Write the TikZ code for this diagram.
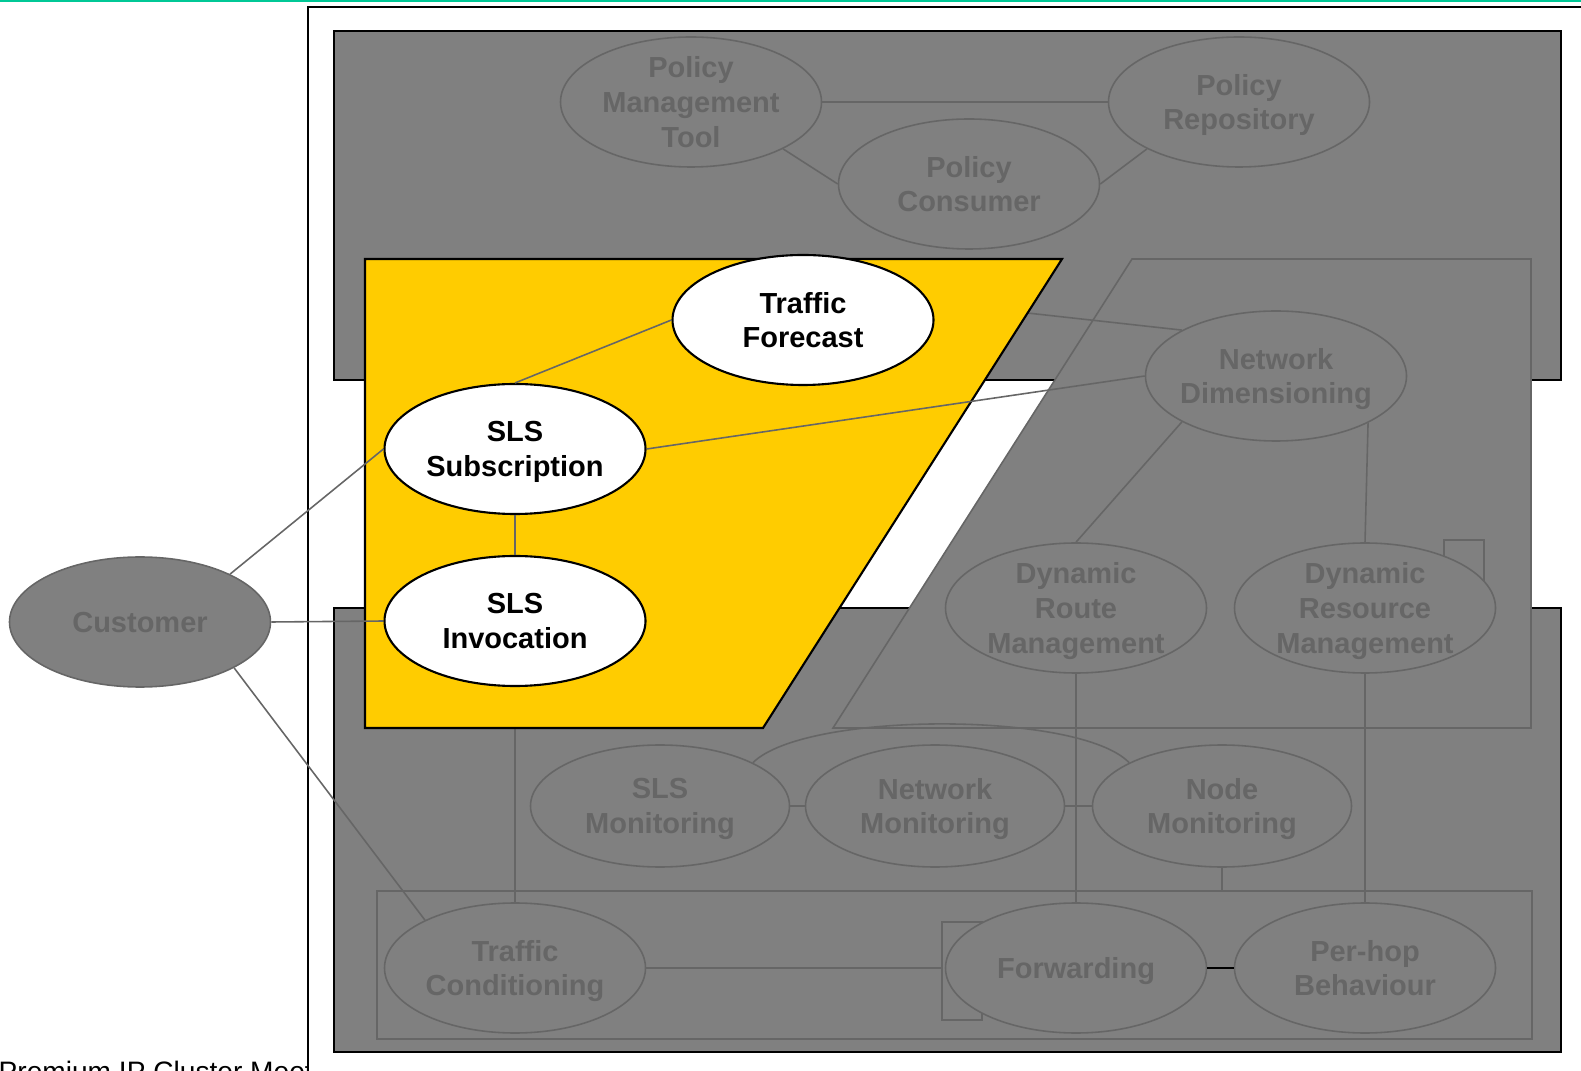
\documentclass[tikz,border=0pt]{standalone}
\usepackage{fontspec}
\setmainfont{Liberation Sans}
\usetikzlibrary{shapes.geometric}
\definecolor{archgrey}{HTML}{808080}
\definecolor{archline}{HTML}{666666}
\definecolor{archyellow}{HTML}{FFCC00}
\definecolor{archteal}{HTML}{00C896}
\pgfdeclarelayer{planes}
\pgfdeclarelayer{hidden}
\pgfdeclarelayer{slsarea}
\pgfsetlayers{planes,hidden,slsarea,main}

\begin{document}
\begin{tikzpicture}[
  x=0.1mm, y=-0.1mm,
  font=\bfseries\fontsize{8.25}{9.9}\selectfont,
  block/.style={ellipse, draw=archline, line width=0.45pt, fill=archgrey, text=archline,
                align=center, inner sep=-3mm, text depth=0pt,
                minimum width=26.1mm, minimum height=13mm},
  mon/.style={block, minimum width=25.9mm, minimum height=12.2mm},
  hot/.style={block, draw=black, fill=white, text=black, line width=0.6pt},
  plane/.style={draw=black, line width=0.5pt, fill=archgrey},
  link/.style={draw=archline, line width=0.45pt},
  port/.style={draw=archline, line width=0.45pt, inner sep=0pt, anchor=north west}
]
\useasboundingbox (0,0) rectangle (1581,1071);
% ================= page frame and the two planes =================
\begin{pgfonlayer}{planes}
\draw[archteal, line width=0.25mm] (0,1) -- (1581,1);
\begin{scope}
  \clip (0,0) rectangle (308,1071);
  \node[anchor=base west, inner sep=0pt, font=\mdseries\fontsize{8}{9.6}\selectfont] (footer)
    at (-2,1081) {Premium IP Cluster Meeting};
\end{scope}
\draw[line width=0.5pt] (1581,7) -- (308,7) -- (308,1071);
\draw[plane] (334,31) rectangle (1561,380);
\draw[plane] (334,608) rectangle (1561,1052);
\node[port, minimum width=115.5mm, minimum height=14.8mm] (dplane) at (376,890) {};
% network dimensioning area
\draw[link, fill=archgrey] (1132,259) -- (1531,259) -- (1531,728) -- (833,728) -- cycle;
\node[port, minimum width=4mm, minimum height=6mm] (rmport) at (1443,539) {};
\node[port, minimum width=4mm, minimum height=9.8mm] (fwport) at (941,921) {};
\end{pgfonlayer}
% ================= SLS area =================
\begin{pgfonlayer}{slsarea}
\draw[fill=archyellow, line width=0.6pt] (365,259) -- (1062,259) -- (763,728) -- (365,728) -- cycle;
\end{pgfonlayer}
% ================= policy block =================
\node[block] (pmt)   at (691,102) {Policy\\Management\\Tool};
\node[block] (prep)  at (1239,102) {Policy\\Repository};
\node[block] (pcons) at (969,184) {Policy\\Consumer};
\draw[link] (pmt.east) -- (prep.west);
\draw[link] (pmt.-27) -- (pcons.west);
\draw[link] (pcons.east) -- (prep.207);
% ================= SLS functions =================
\node[hot] (tf) at (803,320) {Traffic\\Forecast};
\node[hot] (ss) at (515,449) {SLS\\Subscription};
\node[hot] (si) at (515,621) {SLS\\Invocation};
\node[block] (cust) at (140,622) {Customer};
\draw[link] (ss.north) -- (tf.west);
\draw[link] (ss.south) -- (si.north);
\draw[link] (cust.28) -- (ss.west);
\draw[link] (cust.east) -- (si.west);
% ================= dimensioning and route management =================
\node[block] (nd)    at (1276,376) {Network\\Dimensioning};
\node[block] (drm)   at (1076,608) {Dynamic\\Route\\Management};
\node[block] (dresm) at (1365,608) {Dynamic\\Resource\\Management};
\draw[link] (ss.east) -- (nd.west);
\draw[link] (nd.206) -- (drm.north);
\draw[link] (nd.-27) -- (dresm.north);
% ================= monitoring row =================
\node[mon] (slsm)  at (660,806) {SLS\\Monitoring};
\node[mon] (netm)  at (935,806) {Network\\Monitoring};
\node[mon] (nodem) at (1222,806) {Node\\Monitoring};
\draw[link] (slsm.east) -- (netm.west);
\draw[link] (netm.east) -- (nodem.west);
\draw[link] (slsm.25) .. controls (805,711) and (1080,711) .. (nodem.155);
\draw[link] (nodem.south) -- (nodem.south |- dplane.north);
% ================= data plane =================
\node[block] (tc)  at (515,968) {Traffic\\Conditioning};
\node[block] (fwd) at (1076,968) {Forwarding};
\node[block] (phb) at (1365,968) {Per-hop\\Behaviour};
\draw[link] (tc.east) -- (tc.east -| fwport.west);
\draw[line width=0.5pt] (fwd.east) -- (phb.west);
\draw[link] (drm.south) -- (fwd.north);
\draw[link] (dresm.south) -- (phb.north);
\draw[link] (cust.-26) -- (tc.152);
% links running under the SLS area
\begin{pgfonlayer}{hidden}
\draw[link] (tf.8) -- (nd.154);
\draw[link] (si.south) -- (tc.north);
\end{pgfonlayer}
\end{tikzpicture}
\end{document}
